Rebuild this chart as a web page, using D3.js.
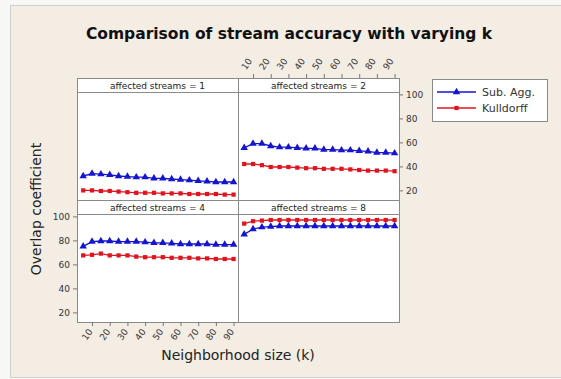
<!DOCTYPE html>
<html>
<head>
<meta charset="utf-8">
<script src="https://cdn.jsdelivr.net/npm/d3@7"></script>
<style>
  html, body { margin: 0; padding: 0; background: #f7f7f6; }
  svg { display: block; }
  text { font-family: "DejaVu Sans", sans-serif; fill: #222; }
</style>
</head>
<body>
<svg id="chart" width="561" height="379"></svg>
<script>
// Neighborhood sizes (k)
const kValues = [5, 10, 15, 20, 25, 30, 35, 40, 45, 50, 55, 60, 65, 70, 75, 80, 85, 90];
const xTicks = [10, 20, 30, 40, 50, 60, 70, 80, 90];
const yTicks = [20, 40, 60, 80, 100];

const panelTitles = ["affected streams = 1", "affected streams = 2", "affected streams = 4", "affected streams = 8"];
const seriesNames = ["Sub. Agg.", "Kulldorff"];

// Overlap coefficient, one array per panel
const subAgg1 = [32, 34, 33.5, 33, 32, 31.5, 31, 31, 30, 30, 29.5, 29, 28.5, 28, 27.5, 27, 27, 27];
const kull1   = [20, 20, 19.5, 19.5, 19, 18.5, 18, 18, 18, 17.5, 17.5, 17.5, 17, 17, 17, 17, 16.5, 16.5];
const subAgg2 = [55.5, 59, 59, 57, 56, 56, 55.5, 55, 55, 54, 54, 53.5, 53.5, 53, 52.5, 51.5, 51.5, 51];
const kull2   = [42, 42, 41, 39.5, 39.5, 39.5, 39, 38.5, 38.5, 38, 38, 38, 37.5, 37, 36.5, 36.5, 36.5, 36];
const subAgg4 = [75, 79, 79.5, 79.5, 79, 79, 79, 78.5, 78, 78, 77.5, 77, 77, 77, 77, 76.5, 76.5, 76.5];
const kull4   = [67.5, 68, 69, 67.5, 67.5, 67.5, 66.5, 66, 66, 66, 65.5, 65.5, 65.5, 65, 65, 64.5, 64.5, 64.5];
const subAgg8 = [85, 89.5, 91, 91.5, 92, 92, 92, 92, 92, 92, 92, 92, 92, 92, 92, 92, 92, 92];
const kull8   = [94, 96, 96.5, 97, 97, 97, 97, 97, 97, 97, 97, 97, 97, 97, 97, 97, 97, 97];

const blue = "#1414d2", red = "#e0141e";
const panels = [
  { title: panelTitles[0], col: 0, row: 0, a: subAgg1, b: kull1 },
  { title: panelTitles[1], col: 1, row: 0, a: subAgg2, b: kull2 },
  { title: panelTitles[2], col: 0, row: 1, a: subAgg4, b: kull4 },
  { title: panelTitles[3], col: 1, row: 1, a: subAgg8, b: kull8 }
];

const svg = d3.select("#chart");

// page background
svg.append("rect").attr("x", 10.5).attr("y", 5.5).attr("width", 560).attr("height", 372)
  .attr("fill", "#f3ede4").attr("stroke", "#cfcfcf");

svg.append("text").attr("x", 289).attr("y", 39).attr("text-anchor", "middle")
  .style("font-size", "15.5px").style("font-weight", "bold").style("fill", "#111")
  .text("Comparison of stream accuracy with varying k");

const frameLeft = 77, frameTop = 78, colW = 161, stripH = 14, panelH = 108;
const x = d3.scaleLinear().domain([1.5, 92.5]).range([0, colW]);
const y = d3.scaleLinear().domain([12, 102]).range([panelH, 0]);
const line = d3.line().x((d, i) => x(kValues[i])).y(d => y(d));
const tri = d3.symbol().type(d3.symbolTriangle).size(24);
const sq = d3.symbol().type(d3.symbolSquare).size(18);

panels.forEach(p => {
  const gx = frameLeft + p.col * colW;
  const gy = frameTop + p.row * (stripH + panelH);
  const g = svg.append("g").attr("transform", `translate(${gx},${gy})`);
  // strip
  g.append("rect").attr("x", 0.5).attr("y", 0.5).attr("width", colW).attr("height", stripH)
    .attr("fill", "#fff").attr("stroke", "#8a8a8a");
  g.append("text").attr("x", colW / 2).attr("y", stripH / 2 + 3.5).attr("text-anchor", "middle")
    .style("font-size", "9px").text(p.title);
  const pg = g.append("g").attr("transform", `translate(0,${stripH})`);
  pg.append("rect").attr("x", 0.5).attr("y", 0.5).attr("width", colW).attr("height", panelH)
    .attr("fill", "#fff").attr("stroke", "#8a8a8a");

  [[p.b, red, sq], [p.a, blue, tri]].forEach(([vals, c, sym]) => {
    pg.append("path").datum(vals).attr("d", line).attr("fill", "none")
      .attr("stroke", c).attr("stroke-width", 1.3);
    pg.selectAll(null).data(vals).enter().append("path")
      .attr("d", sym)
      .attr("transform", (d, i) => `translate(${x(kValues[i])},${y(d)})`)
      .attr("fill", c);
  });

  // axes on alternating sides
  if (p.row === 1 && p.col === 0) {
    const ax = pg.append("g").call(d3.axisLeft(y).tickValues(yTicks).tickSize(4).tickPadding(3));
    styleAxis(ax);
    const bx = pg.append("g").attr("transform", `translate(0,${panelH})`)
      .call(d3.axisBottom(x).tickValues(xTicks).tickSize(4).tickPadding(0));
    styleAxis(bx);
    bx.selectAll("text").attr("text-anchor", "middle").attr("dy", 0)
      .attr("transform", "translate(-6,12) rotate(-55)");
  }
  if (p.row === 0 && p.col === 1) {
    const ax = pg.append("g").attr("transform", `translate(${colW},0)`)
      .call(d3.axisRight(y).tickValues(yTicks).tickSize(4).tickPadding(3));
    styleAxis(ax);
    const tx = g.append("g").call(d3.axisTop(x).tickValues(xTicks).tickSize(4).tickPadding(0));
    styleAxis(tx);
    tx.selectAll("text").attr("text-anchor", "middle").attr("dy", 0)
      .attr("transform", "translate(-1,-10) rotate(-55)");
  }
});

function styleAxis(a) {
  a.select(".domain").remove();
  a.selectAll("line").attr("stroke", "#777");
  a.selectAll("text").style("font-size", "9px").style("fill", "#333").attr("font-family", null);
}

// axis titles
svg.append("text").attr("x", 238).attr("y", 360).attr("text-anchor", "middle")
  .style("font-size", "14px").text("Neighborhood size (k)");
svg.append("text").attr("transform", "translate(41,209) rotate(-90)").attr("text-anchor", "middle")
  .style("font-size", "14px").text("Overlap coefficient");

// legend
const lg = svg.append("g").attr("transform", "translate(432,79)");
lg.append("rect").attr("x", 0.5).attr("y", 0.5).attr("width", 115).attr("height", 42)
  .attr("fill", "#fff").attr("stroke", "#8a8a8a");
seriesNames.forEach((name, i) => {
  const c = i === 0 ? blue : red;
  const yy = 13 + i * 16;
  lg.append("line").attr("x1", 5).attr("x2", 44).attr("y1", yy).attr("y2", yy)
    .attr("stroke", c).attr("stroke-width", 1.3);
  lg.append("path").attr("d", i === 0 ? tri : sq).attr("transform", `translate(24.5,${yy})`).attr("fill", c);
  lg.append("text").attr("x", 50).attr("y", yy + 4).style("font-size", "11px").style("fill", "#333").text(name);
});
</script>
</body>
</html>
